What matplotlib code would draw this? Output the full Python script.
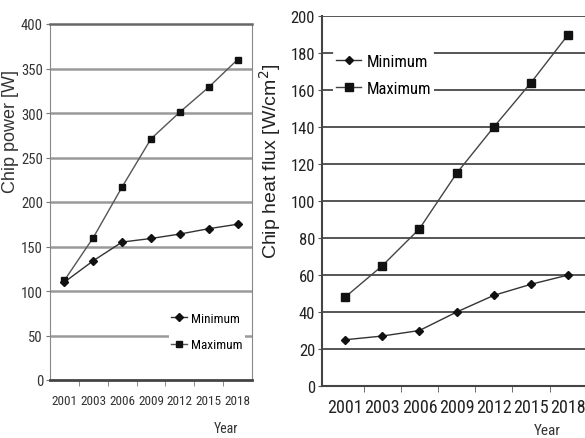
import matplotlib
matplotlib.use("Agg")
import matplotlib.pyplot as plt
import numpy as np

years = ["2001", "2003", "2006", "2009", "2012", "2015", "2018"]
power_min = [110, 134, 155, 159, 164, 170, 175]
power_max = [112, 160, 217, 271, 301, 329, 360]
flux_min = [25, 27, 30, 40, 49, 55, 60]
flux_max = [48, 65, 85, 115, 140, 164, 190]

NARROW = ['Roboto Condensed', 'Archivo Narrow', 'DejaVu Sans']
WIDE = ['Liberation Sans', 'DejaVu Sans']

fig = plt.figure(figsize=(5.85, 4.39), dpi=100)
fig.patch.set_facecolor('white')

x = np.arange(len(years))

# ---- Left panel ----
ax1 = fig.add_axes([50/585, 1-381/439, 202/585, 356/439])
ax1.set_xlim(-0.5, 6.5)
ax1.set_ylim(0, 400)
ax1.set_yticks(np.arange(0, 401, 50))
for v in range(50, 400, 50):
    ax1.axhline(v, color='#9a9a9a', lw=1.8, zorder=0)
ax1.plot(x, power_min, color='#333333', lw=1.0, marker='D', ms=4, mfc='#111111', mec='#111111', label='Minimum', zorder=3)
ax1.plot(x, power_max, color='#555555', lw=1.0, marker='s', ms=5, mfc='#111111', mec='#111111', label='Maximum', zorder=3)
ax1.set_xticks(x)
ax1.set_xticklabels(years, family=NARROW, fontsize=9.5, color='#333333')
ax1.set_xticks(np.arange(0.5, 6.5, 1), minor=True)
ax1.tick_params(axis='x', which='major', length=0, pad=10)
ax1.tick_params(axis='x', which='minor', length=4, color='#777777', direction='out')
ax1.tick_params(axis='y', length=3, color='#777777', pad=2)
for lab in ax1.get_yticklabels():
    lab.set_family(NARROW)
    lab.set_fontsize(10.5)
    lab.set_color('#333333')
ax1.spines['left'].set_color('#888888')
ax1.spines['right'].set_color('#888888')
ax1.spines['top'].set_color('#666666')
ax1.spines['top'].set_linewidth(1.8)
ax1.spines['bottom'].set_color('#444444')
ax1.spines['bottom'].set_linewidth(2.0)
ax1.set_ylabel('Chip power [W]', family=WIDE, fontsize=13, color='#333333')
ax1.yaxis.set_label_coords(-0.155, 0.70)
ax1.text(0.87, -0.135, 'Year', transform=ax1.transAxes, ha='center', va='center',
         family=NARROW, fontsize=10, color='#333333')
leg1 = ax1.legend(loc='lower right', bbox_to_anchor=(1.0, 0.055), frameon=True,
                  prop={'family': NARROW, 'size': 9.5}, handlelength=1.2,
                  handletextpad=0.3, borderpad=0.2, labelspacing=1.0)
leg1.get_frame().set_edgecolor('none')
leg1.get_frame().set_facecolor('white')
leg1.get_frame().set_alpha(1)

# ---- Right panel ----
ax2 = fig.add_axes([322/585, 1-387/439, 263/585, 370/439])
ax2.set_xlim(-0.62, 6.45)
ax2.set_ylim(0, 200)
ax2.set_yticks(np.arange(0, 201, 20))
for v in range(20, 201, 20):
    ax2.axhline(v, color='#555555', lw=1.4, zorder=0)
ax2.plot(x, flux_min, color='#333333', lw=1.0, marker='D', ms=4.5, mfc='#111111', mec='#111111', label='Minimum', zorder=3)
ax2.plot(x, flux_max, color='#444444', lw=1.0, marker='s', ms=5.5, mfc='#111111', mec='#111111', label='Maximum', zorder=3)
ax2.set_xticks(x)
ax2.set_xticklabels(years, family=NARROW, fontsize=13, color='#222222')
ax2.set_xticks(np.arange(0.5, 6.5, 1), minor=True)
ax2.tick_params(axis='x', which='major', length=0, pad=9)
ax2.tick_params(axis='x', which='minor', length=4, color='#555555', direction='out')
ax2.tick_params(axis='y', length=3, color='#555555', pad=2)
for lab in ax2.get_yticklabels():
    lab.set_family(NARROW)
    lab.set_fontsize(12)
    lab.set_color('#222222')
ax2.spines['left'].set_color('#444444')
ax2.spines['left'].set_linewidth(1.5)
ax2.spines['bottom'].set_color('#444444')
ax2.spines['bottom'].set_linewidth(1.5)
ax2.spines['top'].set_visible(False)
ax2.spines['right'].set_visible(False)
ax2.set_ylabel('Chip heat flux [W/cm$^2$]', family=WIDE, fontsize=14, color='#222222')
ax2.yaxis.set_label_coords(-0.15, 0.61)
ax2.text(0.855, -0.12, 'Year', transform=ax2.transAxes, ha='center', va='center',
         family=NARROW, fontsize=11, color='#333333')
leg2 = ax2.legend(loc='upper left', bbox_to_anchor=(0.01, 0.93), frameon=True,
                  prop={'family': NARROW, 'size': 12}, handlelength=1.5,
                  handletextpad=0.3, borderpad=0.2, labelspacing=0.75)
leg2.get_frame().set_edgecolor('none')
leg2.get_frame().set_facecolor('white')
leg2.get_frame().set_alpha(1)

fig.savefig('out.png', dpi=100)
